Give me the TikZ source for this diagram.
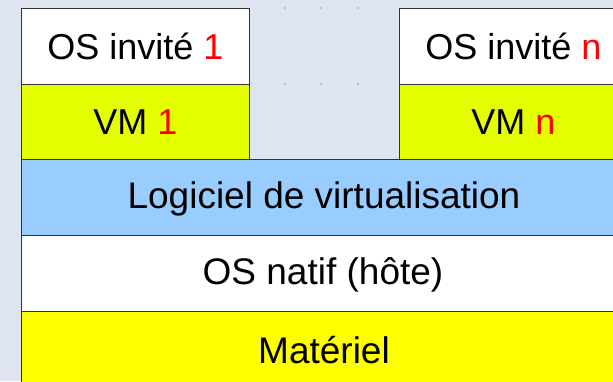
\documentclass[tikz,border=0pt]{standalone}
\usepackage{fontspec}
\setmainfont{Liberation Sans}
\definecolor{bg}{HTML}{DFE5F0}
\definecolor{vmyel}{HTML}{E6FF00}
\definecolor{virt}{HTML}{99CCFF}
\definecolor{hw}{HTML}{FFFF00}
\definecolor{edge}{HTML}{333333}
\begin{document}
\begin{tikzpicture}[x=1pt,y=-1pt,
  txt/.style={font=\fontsize{37}{40}\selectfont},
  layer/.style={draw=edge, line width=0.8pt, anchor=north west, inner sep=0pt,
    font=\fontsize{36}{40}\selectfont, text depth=0pt},
  dotmark/.style={fill=gray!80, inner sep=0pt, minimum size=1.6pt, circle}]
\useasboundingbox (0,0) rectangle (613,381);
\clip (0,0) rectangle (613,381);
\fill[bg] (0,0) rectangle (613,381);
\node[layer, fill=white, minimum width=228pt, minimum height=76pt] (os1) at (21,8) {OS invité \textcolor{red}{1}};
\node[layer, fill=vmyel, minimum width=228pt, minimum height=75pt] (vm1) at (21,84) {VM \textcolor{red}{1}};
\node[layer, fill=white, minimum width=228pt, minimum height=76pt] (osn) at (399,8) {OS invité \textcolor{red}{n}};
\node[layer, fill=vmyel, minimum width=228pt, minimum height=75pt] (vmn) at (399,84) {VM \textcolor{red}{n}};
\node[layer, fill=virt, minimum width=620pt, minimum height=76pt] (virt) at (21,159) {};
\node[txt] (tvirt) at (324,199) {Logiciel de virtualisation};
\node[layer, fill=white, minimum width=620pt, minimum height=76pt] (host) at (21,235) {};
\node[txt] (thost) at (323,275) {OS natif (hôte)};
\node[layer, fill=hw, minimum width=620pt, minimum height=90pt] (hw) at (21,311) {};
\node[txt] (thw) at (324,350) {Matériel};
\foreach \i/\x in {1/285,2/321,3/358}{
  \node[dotmark] (dt\i) at (\x,8) {};
  \node[dotmark] (db\i) at (\x,84) {};
}
\end{tikzpicture}
\end{document}
